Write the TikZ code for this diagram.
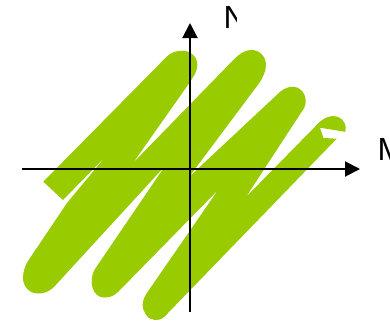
\documentclass[tikz,border=0pt]{standalone}
\usepackage{fontspec}
\setmainfont{Liberation Sans}
\usetikzlibrary{arrows.meta}
\definecolor{lime}{HTML}{99CC00}
\tikzset{
  blob/.style={fill=lime, draw=none},
  axis/.style={draw=black, line width=2pt, -{Triangle[length=15pt,width=15pt]}},
  lbl/.style={inner sep=0pt, anchor=base west, font=\fontsize{32}{32}\selectfont}
}
\begin{document}
\begin{tikzpicture}[x=1pt,y=-1pt]
\useasboundingbox[fill=white] (0,0) rectangle (390,322);
% green zigzag brush shape
\path[blob] (43.3,181.7) -- (166.7,56.7)
  .. controls (172,51.5) and (177,50.8) .. (183,50.8)
  .. controls (191,50.8) and (197.3,57) .. (197.3,65)
  .. controls (197.3,72) and (193,77) .. (190,82)
  -- (133,163) -- (233.3,60)
  .. controls (238,55) and (244,50) .. (251.7,50)
  .. controls (260,50) and (266,57) .. (266,65)
  .. controls (266,71) and (263,77) .. (260,82)
  -- (189,177) -- (276.7,95)
  .. controls (281,90) and (287,86.7) .. (293.3,86.7)
  .. controls (300,86.7) and (305.7,93) .. (305.7,101.7)
  .. controls (305.7,105) and (304,109) .. (301.7,111.7)
  -- (246,197) -- (316.7,125)
  .. controls (321,120) and (327,116) .. (333.3,116)
  .. controls (340,116) and (345.7,121) .. (345.7,128.3)
  -- (345.3,131.8) -- (320,127.7) -- (323.5,138) -- (336.7,138.7)
  -- (168,313)
  .. controls (164,318) and (161,320) .. (155,320)
  .. controls (148,320) and (142.7,312) .. (142.7,305)
  .. controls (142.7,300) and (144.5,297) .. (146.7,293.3)
  -- (218,190) -- (118,292)
  .. controls (113,297) and (108,297.5) .. (104,297.5)
  .. controls (96,297.5) and (91.7,289) .. (91.7,282)
  .. controls (91.7,277) and (93,272) .. (95,269)
  -- (165,166) -- (53,288)
  .. controls (48,292) and (44,293.5) .. (38,293.5)
  .. controls (29,293.5) and (23,286) .. (23,278)
  .. controls (23,272) and (25,266) .. (28,261)
  -- (67,203) -- (106,156) -- (63,200) -- cycle;
% axes
\coordinate (xl) at (22,169);
\coordinate (xr) at (360,169);
\coordinate (yb) at (190,312);
\coordinate (yt) at (190,23);
\draw[axis] (xl) -- (xr);
\draw[axis] (yb) -- (yt);
\begin{scope}
\clip (200,0) rectangle (236,40);
\node[lbl] (nl) at (223.5,28) {N};
\end{scope}
\node[lbl] (ml) at (377.5,160) {M};
\end{tikzpicture}
\end{document}
